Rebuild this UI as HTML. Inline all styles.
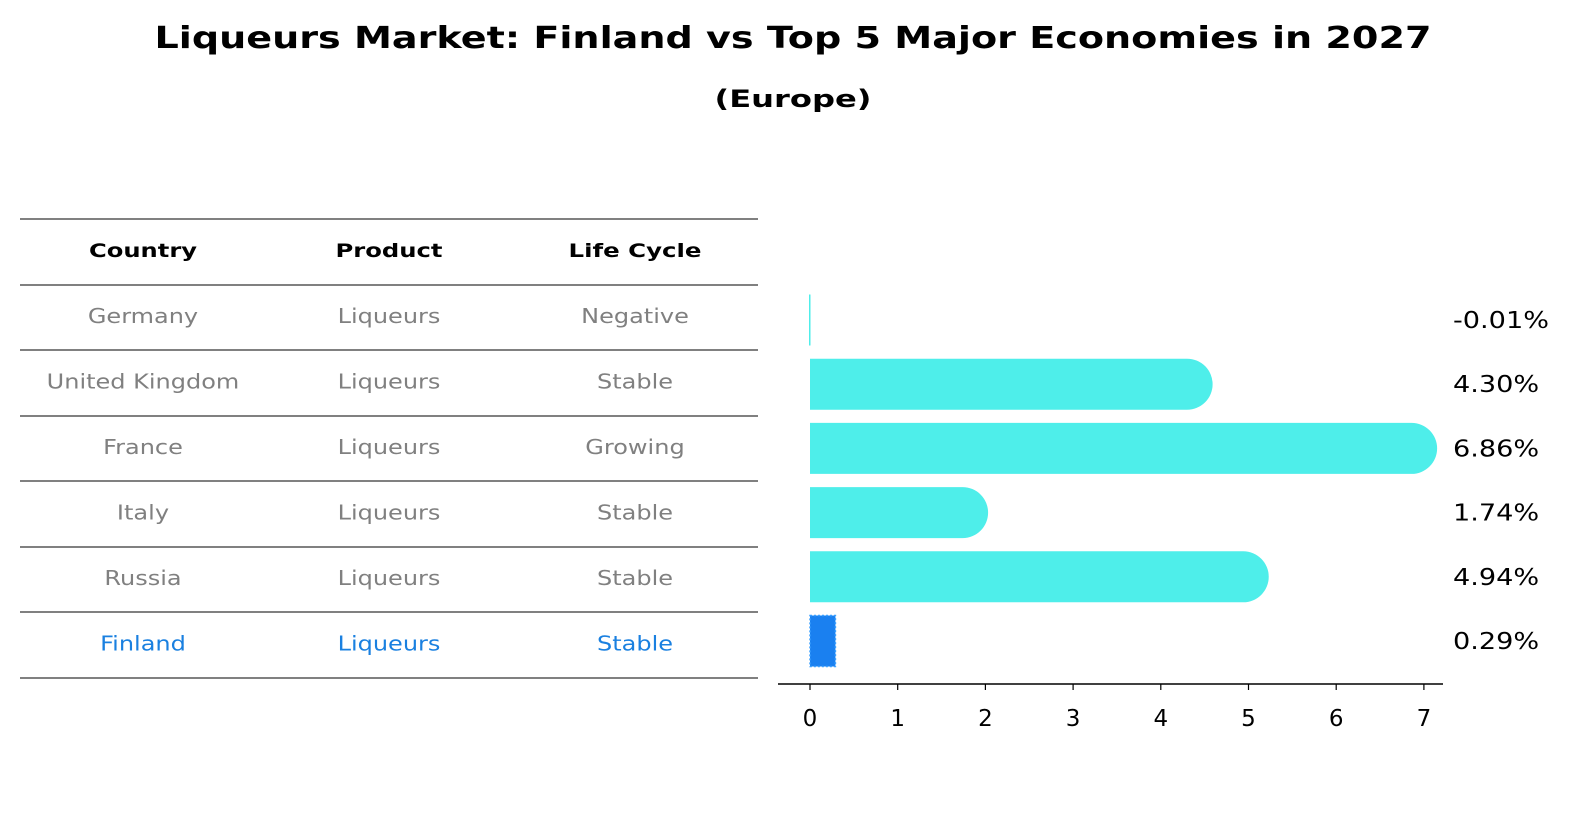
<!DOCTYPE html>
<html><head><meta charset="utf-8"><style>
body{margin:0;background:#fff;font-family:"DejaVu Sans","Liberation Sans",sans-serif;}
svg text{font-family:"DejaVu Sans","Liberation Sans",sans-serif;}
</style></head><body>
<svg width="1596" height="823" viewBox="0 0 1596 823" xmlns="http://www.w3.org/2000/svg">
<text x="793" y="48" text-anchor="middle" font-size="30" font-weight="bold" textLength="1277" lengthAdjust="spacingAndGlyphs">Liqueurs Market: Finland vs Top 5 Major Economies in 2027</text>
<text x="793" y="107" text-anchor="middle" font-size="24" font-weight="bold" textLength="157" lengthAdjust="spacingAndGlyphs">(Europe)</text>
<g id="table"></g>
<g id="bars"></g>
<g id="axis"></g>
</svg>
<script>
const countries=["Germany","United Kingdom","France","Italy","Russia","Finland"];
const products=["Liqueurs","Liqueurs","Liqueurs","Liqueurs","Liqueurs","Liqueurs"];
const lifeCycles=["Negative","Stable","Growing","Stable","Stable","Stable"];
const values=[-0.01,4.30,6.86,1.74,4.94,0.29];
const valueLabels=["-0.01%","4.30%","6.86%","1.74%","4.94%","0.29%"];
const ticks=[0,1,2,3,4,5,6,7];

const NS="http://www.w3.org/2000/svg";
function mk(tag,attrs,parent){const e=document.createElementNS(NS,tag);for(const k in attrs)e.setAttribute(k,attrs[k]);parent.appendChild(e);return e;}
function stretch(t,f){try{const w=t.getComputedTextLength();if(w>0){t.setAttribute('textLength',(w*f).toFixed(1));t.setAttribute('lengthAdjust','spacingAndGlyphs');}}catch(e){}}
const x0=810,pxPer=87.7;
function xs(v){return x0+v*pxPer;}
function rowY(i){return 320+i*64.2;}

const tb=document.getElementById('table');
const lineYs=[219,285,350,416,481,547,612,678];
lineYs.forEach(y=>{const l=mk('line',{x1:20,x2:758,y1:y,y2:y,stroke:'#000','stroke-width':1},tb);

});
const colX=[143,389,635];
const hdrW=[108,107,133];
["Country","Product","Life Cycle"].forEach((h,j)=>{const t=mk('text',{x:colX[j],y:257,'text-anchor':'middle','font-size':19,'font-weight':'bold',textLength:hdrW[j],lengthAdjust:'spacingAndGlyphs'},tb);t.textContent=h;

});
countries.forEach((c,i)=>{const col=i===countries.length-1?'#1a80e0':'#808080';
[c,products[i],lifeCycles[i]].forEach((v,j)=>{const t=mk('text',{x:colX[j],y:323+i*65.5,'text-anchor':'middle','font-size':20,fill:col},tb);t.textContent=v;


stretch(t,1.2);});});

const bg=document.getElementById('bars');
const h=51,r=25.5;
values.forEach((v,i)=>{const yc=rowY(i);const last=i===values.length-1;
let el;
if(last){el=mk('rect',{x:xs(0),y:yc-h/2,width:Math.max(1,xs(v)-xs(0)),height:h,fill:'#1a80f0',stroke:'#3aa0ff','stroke-width':1.5,'stroke-dasharray':'2 2'},bg);}
else if(Math.abs(v)<0.05){el=mk('rect',{x:xs(0)-1,y:yc-h/2,width:1.5,height:h,fill:'#4eeeea'},bg);}
else{const xe=xs(v);el=mk('path',{d:`M${xs(0)} ${yc-h/2} H${xe} A${r} ${r} 0 0 1 ${xe} ${yc+h/2} H${xs(0)} Z`,fill:'#4eeeea'},bg);}


const t=mk('text',{x:1453,y:yc+8,'font-size':23},bg);t.textContent=valueLabels[i];


stretch(t,1.18);});

const ax=document.getElementById('axis');
const al=mk('line',{x1:778,x2:1443,y1:684,y2:684,stroke:'#000','stroke-width':1.5},ax);


ticks.forEach(tv=>{const x=xs(tv);const tk=mk('line',{x1:x,x2:x,y1:684,y2:690,stroke:'#000','stroke-width':1.2},ax);


const t=mk('text',{x:x,y:726,'text-anchor':'middle','font-size':23},ax);t.textContent=tv;

});
</script>
</body></html>
